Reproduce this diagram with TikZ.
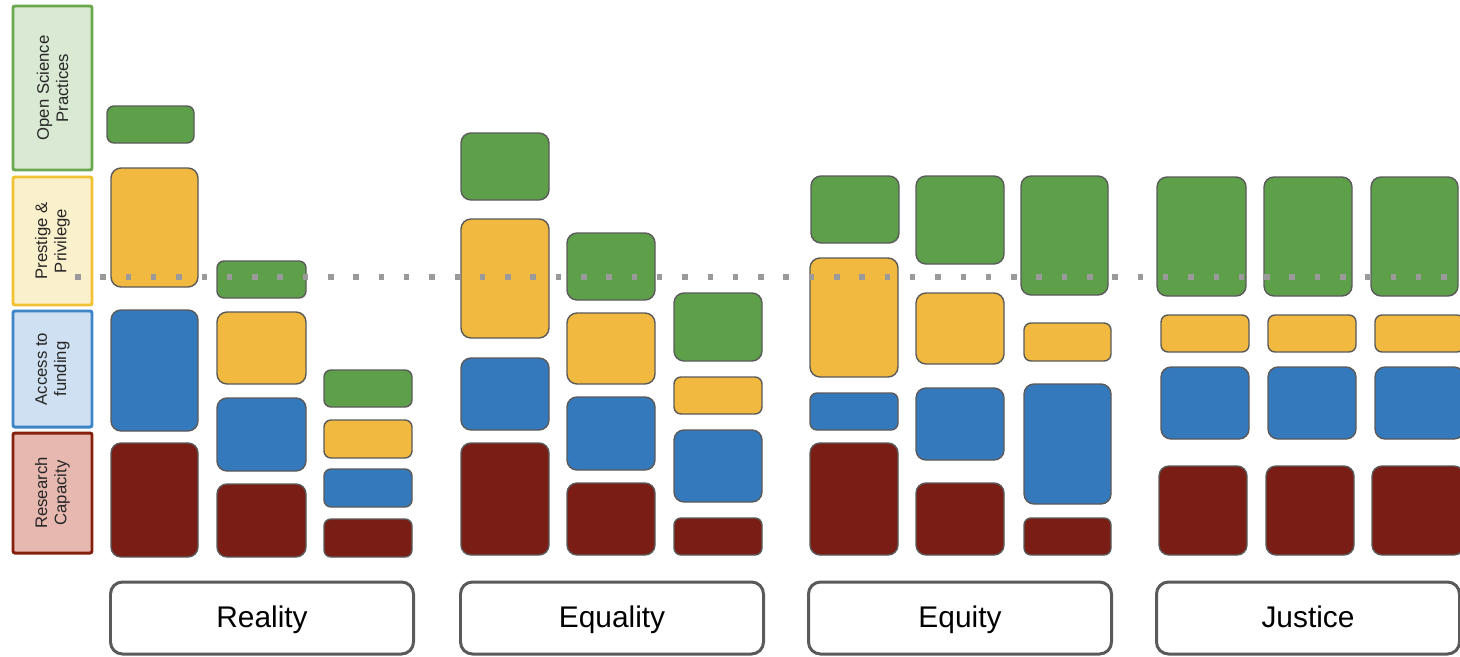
\documentclass[tikz,border=0pt]{standalone}
\usepackage{fontspec}
\setmainfont{Liberation Sans}
\usetikzlibrary{positioning}

\definecolor{osgreen}{HTML}{5E9F4A}
\definecolor{ppyellow}{HTML}{F1B93F}
\definecolor{afblue}{HTML}{3579BD}
\definecolor{rcred}{HTML}{7A1D14}
\definecolor{edge}{HTML}{5A5A5A}
\definecolor{dotgray}{HTML}{9A9A9A}
\definecolor{keygreen}{HTML}{6AA84F}
\definecolor{keyyellow}{HTML}{F1C232}
\definecolor{keyblue}{HTML}{3D85C6}
\definecolor{keyred}{HTML}{85200C}
\definecolor{keyredfill}{HTML}{E6B8AF}

\begin{document}
\begin{tikzpicture}[x=0.2mm,y=-0.2mm,
  bar/.style={draw=edge,line width=0.8pt,rounded corners=2mm},
  thin/.style={rounded corners=1.4mm},
  osp/.style={bar,fill=osgreen},
  pap/.style={bar,fill=ppyellow},
  atf/.style={bar,fill=afblue},
  rcap/.style={bar,fill=rcred},
  key/.style={draw,line width=1.7pt,rounded corners=0.4mm,rotate=90,align=center,
    font=\fontsize{9.5}{11}\selectfont,text=black!85,minimum height=15.8mm,inner sep=0pt},
  scen/.style={draw=edge,line width=1.7pt,rounded corners=2.4mm,minimum width=60.6mm,
    minimum height=14.4mm,font=\fontsize{17}{20}\selectfont,text=black,
    text height=12.2pt,text depth=1.5pt}]
\useasboundingbox (0,0) rectangle (1460,656);

% legend
\node[key,draw=keygreen,fill=keygreen!25,minimum width=32.8mm] (kos) at (52.5,88) {Open Science\\Practices};
\node[key,draw=keyyellow,fill=keyyellow!25,minimum width=25.6mm] (kpp) at (52.5,241) {Prestige \&\\Privilege};
\node[key,draw=keyblue,fill=keyblue!25,minimum width=23.2mm] (kaf) at (52.5,369) {Access to\\funding};
\node[key,draw=keyred,fill=keyredfill,minimum width=24mm] (krc) at (52.5,493) {Research\\Capacity};

% reality
\draw[osp,thin] (107,106) rectangle (194,143);
\draw[pap] (111,168) rectangle (198,287);
\draw[atf] (111,310) rectangle (198,431);
\draw[rcap] (111,443) rectangle (198,557);
\draw[osp,thin] (217,261) rectangle (306,298);
\draw[pap] (217,312) rectangle (306,384);
\draw[atf] (217,398) rectangle (306,471);
\draw[rcap] (217,484) rectangle (306,557);
\draw[osp,thin] (324,370) rectangle (412,407);
\draw[pap,thin] (324,420) rectangle (412,458);
\draw[atf,thin] (324,469) rectangle (412,507);
\draw[rcap,thin] (324,519) rectangle (412,557);

% equality
\draw[osp] (461,133) rectangle (549,200);
\draw[pap] (461,219) rectangle (549,338);
\draw[atf] (461,358) rectangle (549,430);
\draw[rcap] (461,443) rectangle (549,555);
\draw[osp] (567,233) rectangle (655,300);
\draw[pap] (567,313) rectangle (655,384);
\draw[atf] (567,397) rectangle (655,470);
\draw[rcap] (567,483) rectangle (655,555);
\draw[osp] (674,293) rectangle (762,361);
\draw[pap,thin] (674,377) rectangle (762,414);
\draw[atf] (674,430) rectangle (762,502);
\draw[rcap,thin] (674,518) rectangle (762,555);

% equity
\draw[osp] (811,176) rectangle (899,243);
\draw[pap] (810,258) rectangle (898,377);
\draw[atf,thin] (810,393) rectangle (898,430);
\draw[rcap] (810,443) rectangle (898,555);
\draw[osp] (916,176) rectangle (1004,264);
\draw[pap] (916,293) rectangle (1004,364);
\draw[atf] (916,388) rectangle (1004,460);
\draw[rcap] (916,483) rectangle (1004,555);
\draw[osp] (1021,176) rectangle (1108,295);
\draw[pap,thin] (1024,323) rectangle (1111,361);
\draw[atf] (1024,384) rectangle (1111,504);
\draw[rcap,thin] (1024,518) rectangle (1111,555);

% justice
\draw[osp] (1157,177) rectangle (1246,296);
\draw[pap,thin] (1161,315) rectangle (1249,352);
\draw[atf] (1161,367) rectangle (1249,439);
\draw[rcap] (1159,466) rectangle (1247,555);
\draw[osp] (1264,177) rectangle (1352,296);
\draw[pap,thin] (1268,315) rectangle (1356,352);
\draw[atf] (1268,367) rectangle (1356,439);
\draw[rcap] (1266,466) rectangle (1354,555);
\draw[osp] (1371,177) rectangle (1458,296);
\draw[pap,thin] (1375,315) rectangle (1464,352);
\draw[atf] (1375,367) rectangle (1464,439);
\draw[rcap] (1372,466) rectangle (1464,555);

% threshold
\draw[dotgray,line width=1.1mm,dash pattern=on 1.1mm off 3.96mm] (75,277) -- (1460,277);

% scenario labels
\node[scen] (reality) at (262,618) {Reality};
\node[scen] (equality) at (612,618) {Equality};
\node[scen] (equity) at (960,618) {Equity};
\node[scen] (justice) at (1308,618) {Justice};
\end{tikzpicture}
\end{document}
